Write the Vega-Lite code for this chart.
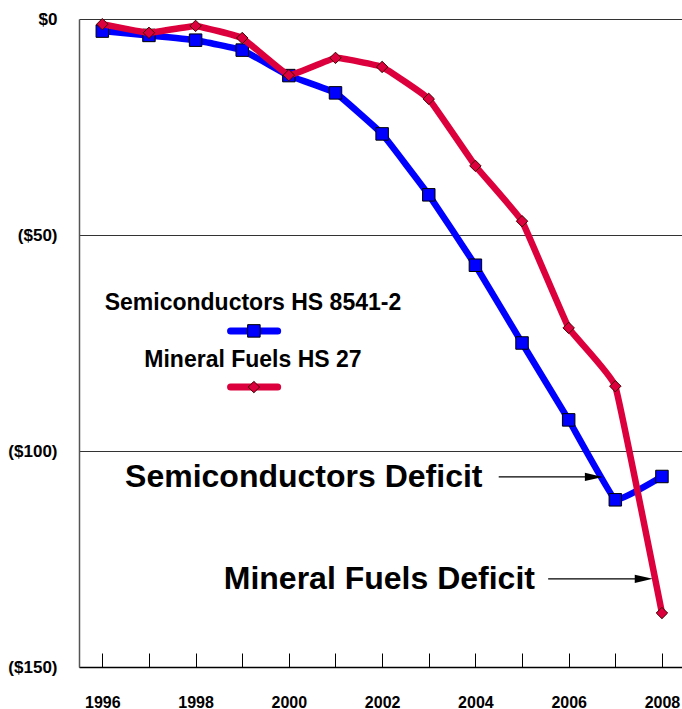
{
  "$schema": "https://vega.github.io/schema/vega-lite/v6.json",
  "autosize": {"type": "none"},
  "padding": {"left": 79, "top": 19, "right": 0, "bottom": 42},
  "width": 603,
  "height": 648,
  "background": "white",
  "config": {"view": {"stroke": null}, "font": "Liberation Sans"},
  "datasets": {
    "trade": [
      {"year": 1996, "series": "Semiconductors", "value": -2.8},
      {"year": 1997, "series": "Semiconductors", "value": -3.8},
      {"year": 1998, "series": "Semiconductors", "value": -4.9},
      {"year": 1999, "series": "Semiconductors", "value": -7.2},
      {"year": 2000, "series": "Semiconductors", "value": -13.1},
      {"year": 2001, "series": "Semiconductors", "value": -17.1},
      {"year": 2002, "series": "Semiconductors", "value": -26.6},
      {"year": 2003, "series": "Semiconductors", "value": -40.7},
      {"year": 2004, "series": "Semiconductors", "value": -57.0},
      {"year": 2005, "series": "Semiconductors", "value": -75.0},
      {"year": 2006, "series": "Semiconductors", "value": -92.8},
      {"year": 2007, "series": "Semiconductors", "value": -111.3},
      {"year": 2008, "series": "Semiconductors", "value": -105.9},
      {"year": 1996, "series": "Mineral Fuels", "value": -1.2},
      {"year": 1997, "series": "Mineral Fuels", "value": -3.2},
      {"year": 1998, "series": "Mineral Fuels", "value": -1.6},
      {"year": 1999, "series": "Mineral Fuels", "value": -4.4},
      {"year": 2000, "series": "Mineral Fuels", "value": -13.0},
      {"year": 2001, "series": "Mineral Fuels", "value": -9.0},
      {"year": 2002, "series": "Mineral Fuels", "value": -11.1},
      {"year": 2003, "series": "Mineral Fuels", "value": -18.5},
      {"year": 2004, "series": "Mineral Fuels", "value": -34.0},
      {"year": 2005, "series": "Mineral Fuels", "value": -46.8},
      {"year": 2006, "series": "Mineral Fuels", "value": -71.5},
      {"year": 2007, "series": "Mineral Fuels", "value": -85.0},
      {"year": 2008, "series": "Mineral Fuels", "value": -137.5}
    ],
    "legendText": [
      {"label": "Semiconductors HS 8541-2", "x": 1999.23, "y": -65.7},
      {"label": "Mineral Fuels HS 27", "x": 1999.23, "y": -78.9}
    ],
    "legendLines": [
      {"series": "Semiconductors", "x1": 1998.75, "x2": 1999.76, "xm": 1999.25, "y": -72.2},
      {"series": "Mineral Fuels", "x1": 1998.75, "x2": 1999.76, "xm": 1999.25, "y": -85.2}
    ],
    "notes": [
      {"label": "Semiconductors Deficit", "x": 2000.32, "y": -106.0, "ax1": 2004.5, "ax2": 2006.54},
      {"label": "Mineral Fuels Deficit", "x": 2001.94, "y": -129.6, "ax1": 2005.56, "ax2": 2007.61}
    ]
  },
  "layer": [
    {
      "data": {"name": "trade"},
      "transform": [{"filter": "datum.series == 'Semiconductors'"}],
      "mark": {"type": "line", "interpolate": "cardinal", "tension": 0.75, "color": "#0000FF", "strokeWidth": 6.5},
      "encoding": {
        "x": {"field": "year", "type": "quantitative",
          "scale": {"domain": [1995.5, 2008.43], "nice": false, "zero": false},
          "axis": {
            "title": null,
            "values": [1996, 1997, 1998, 1999, 2000, 2001, 2002, 2003, 2004, 2005, 2006, 2007, 2008],
            "labelExpr": "datum.value % 2 == 0 ? format(datum.value, 'd') : ''",
            "grid": false,
            "domainColor": "#000000",
            "domainWidth": 1.5,
            "tickColor": "#000000",
            "tickWidth": 1,
            "tickSize": -14,
            "labelPadding": 41,
            "labelFont": "Liberation Sans",
            "labelFontWeight": "bold",
            "labelFontSize": 16,
            "labelColor": "#000000",
            "labelFlush": false,
            "labelOverlap": false
          }},
        "y": {"field": "value", "type": "quantitative",
          "scale": {"domain": [-150, 0], "nice": false},
          "axis": {
            "title": null,
            "values": [0, -50, -100, -150],
            "labelExpr": "datum.value == 0 ? '$0' : '($' + (-datum.value) + ')'",
            "grid": true,
            "gridColor": "#333333",
            "gridWidth": 1,
            "gridOpacity": 1,
            "ticks": false,
            "domainColor": "#555555",
            "domainWidth": 1.5,
            "labelPadding": 22,
            "labelFont": "Liberation Sans",
            "labelFontWeight": "bold",
            "labelFontSize": 17,
            "labelColor": "#000000",
            "labelFlush": false,
            "labelOverlap": false
          }}
      }
    },
    {
      "data": {"name": "trade"},
      "transform": [{"filter": "datum.series == 'Semiconductors'"}],
      "mark": {"type": "point", "shape": "square", "filled": true, "size": 156, "color": "#0000FF", "stroke": "#000000", "strokeWidth": 1, "opacity": 1},
      "encoding": {
        "x": {"field": "year", "type": "quantitative"},
        "y": {"field": "value", "type": "quantitative"}
      }
    },
    {
      "data": {"name": "trade"},
      "transform": [{"filter": "datum.series == 'Mineral Fuels'"}],
      "mark": {"type": "line", "interpolate": "cardinal", "tension": 0.75, "color": "#DC003C", "strokeWidth": 6.5},
      "encoding": {
        "x": {"field": "year", "type": "quantitative"},
        "y": {"field": "value", "type": "quantitative"}
      }
    },
    {
      "data": {"name": "trade"},
      "transform": [{"filter": "datum.series == 'Mineral Fuels'"}],
      "mark": {"type": "point", "shape": "diamond", "filled": true, "size": 130, "color": "#DC003C", "stroke": "#400000", "strokeWidth": 1, "opacity": 1},
      "encoding": {
        "x": {"field": "year", "type": "quantitative"},
        "y": {"field": "value", "type": "quantitative"}
      }
    },
    {
      "data": {"name": "legendText"},
      "mark": {"type": "text", "font": "Liberation Sans", "fontWeight": "bold", "fontSize": 23, "align": "center", "baseline": "middle", "color": "#000000"},
      "encoding": {
        "x": {"field": "x", "type": "quantitative"},
        "y": {"field": "y", "type": "quantitative"},
        "text": {"field": "label"}
      }
    },
    {
      "data": {"name": "legendLines"},
      "mark": {"type": "rule", "strokeWidth": 7, "strokeCap": "round"},
      "encoding": {
        "x": {"field": "x1", "type": "quantitative"},
        "x2": {"field": "x2"},
        "y": {"field": "y", "type": "quantitative"},
        "color": {"field": "series", "type": "nominal", "scale": {"domain": ["Semiconductors", "Mineral Fuels"], "range": ["#0000FF", "#DC003C"]}, "legend": null}
      }
    },
    {
      "data": {"name": "legendLines"},
      "transform": [{"filter": "datum.series == 'Semiconductors'"}],
      "mark": {"type": "point", "shape": "square", "filled": true, "size": 156, "color": "#0000FF", "stroke": "#000000", "strokeWidth": 1, "opacity": 1},
      "encoding": {
        "x": {"field": "xm", "type": "quantitative"},
        "y": {"field": "y", "type": "quantitative"}
      }
    },
    {
      "data": {"name": "legendLines"},
      "transform": [{"filter": "datum.series == 'Mineral Fuels'"}],
      "mark": {"type": "point", "shape": "diamond", "filled": true, "size": 130, "color": "#DC003C", "stroke": "#400000", "strokeWidth": 1, "opacity": 1},
      "encoding": {
        "x": {"field": "xm", "type": "quantitative"},
        "y": {"field": "y", "type": "quantitative"}
      }
    },
    {
      "data": {"name": "notes"},
      "mark": {"type": "text", "font": "Liberation Sans", "fontWeight": "bold", "fontSize": 32, "align": "center", "baseline": "middle", "color": "#000000"},
      "encoding": {
        "x": {"field": "x", "type": "quantitative"},
        "y": {"field": "y", "type": "quantitative"},
        "text": {"field": "label"}
      }
    },
    {
      "data": {"name": "notes"},
      "mark": {"type": "rule", "strokeWidth": 1.2, "color": "#000000"},
      "encoding": {
        "x": {"field": "ax1", "type": "quantitative"},
        "x2": {"field": "ax2"},
        "y": {"field": "y", "type": "quantitative"}
      }
    },
    {
      "data": {"name": "notes"},
      "mark": {"type": "point", "shape": "M-1,-0.45L1,0L-1,0.45Z", "filled": true, "size": 324, "color": "#000000", "opacity": 1},
      "encoding": {
        "x": {"field": "ax2", "type": "quantitative"},
        "y": {"field": "y", "type": "quantitative"}
      }
    }
  ]
}
